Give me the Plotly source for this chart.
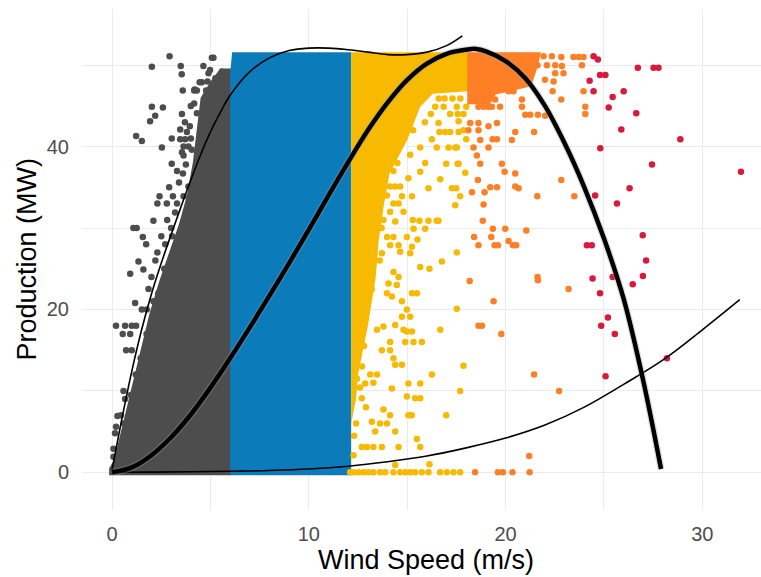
import plotly.graph_objects as go

# ---- point clouds: dense cores (outline of the packed region) ----
gray_core_x = [-0.15, 6.05, 6.05, 5.5, 5.0, 4.5, 4.3, 4.1, 3.8, 3.4, 2.9, 2.4, 1.9, 1.5, 1.1, 0.7, 0.35, 0.1, -0.15]
gray_core_y = [-0.35, -0.35, 49.6, 49.6, 48.0, 46.0, 42.0, 38.0, 34.0, 30.5, 27.0, 23.5, 19.5, 15.5, 11.5, 7.5, 4.0, 1.5, 0.5]

blue_core_x = [6.0, 12.15, 12.15, 6.1, 6.0]
blue_core_y = [-0.35, -0.35, 51.6, 51.6, 49.0]

yellow_core_x = [12.15, 12.4, 12.5, 13.0, 13.4, 13.55, 13.8, 14.1, 15.0, 15.66, 16.3, 18.1, 18.1, 12.15]
yellow_core_y = [6.0, 9.0, 12.0, 18.0, 24.0, 28.5, 32.6, 36.7, 40.8, 44.9, 46.5, 46.8, 51.6, 51.6]

orange_core_x = [18.05, 18.05, 21.8, 21.6, 21.3, 19.5, 19.2]
orange_core_y = [45.2, 51.6, 51.6, 49.6, 47.4, 46.4, 45.2]

# ---- scattered observations around the cores ----
gray_x = [2.92, 2.02, 3.49, 3.54, 4.64, 5.07, 5.15, 4.9, 4.98, 5.58, 3.59, 4.17, 4.31, 4.78, 5.15,
          5.4, 5.69, 4.56, 2.02, 2.58, 2.19, 1.93, 4.17, 4.31, 1.22, 1.51, 2.53, 3.03, 3.46, 3.71,
          3.63, 3.88, 4.05, 3.63, 3.03, 4.13, 3.88, 2.41, 3.09, 3.63, 2.3, 2.78, 3.97, 2.1, 1.08,
          1.25, 1.56, 1.73, 2.3, 1.34, 1.59, 0.92, 1.17, 1.51, 1.76, 0.2, 0.66, 1.0, 1.22, 0.54,
          0.92, 0.71, 1.0, 0.58, 0.66, 0.27, 0.2, 0.15, 0.07, 0.07, 3.46,
          3.7, 3.95, 3.8, 4.0, 3.55, 3.75, 3.6, 3.4, 3.3, 2.9, 3.2, 2.8, 3.0, 2.5, 2.7, 2.2, 2.0,
          1.85, 4.85, 5.25, 5.8,
          3.3, 3.05, 2.65, 2.35, 2.1, 1.75, 1.45, 1.2, 0.95, 0.6, 0.45, 3.55, 4.0, 4.2, 4.45]
gray_y = [51.1, 49.8, 49.9, 48.9, 49.9, 50.9, 50.9, 49.0, 49.4, 49.2, 46.9, 46.9, 46.9, 46.9, 46.9,
          47.9, 47.9, 47.9, 44.9, 44.8, 43.8, 43.1, 45.3, 44.1, 41.3, 40.7, 39.9, 41.0, 40.9, 40.9,
          40.0, 40.0, 39.6, 38.9, 37.9, 35.9, 35.1, 33.9, 33.9, 33.9, 33.0, 33.0, 33.9, 30.9, 30.0,
          30.0, 28.9, 28.0, 27.0, 25.9, 24.9, 24.4, 20.8, 20.0, 20.0, 18.0, 18.0, 18.0, 18.0, 17.0,
          17.0, 15.0, 15.0, 10.0, 9.0, 6.9, 5.6, 4.8, 2.9, 1.9, 42.1,
          43.0, 42.5, 41.8, 41.0, 39.3, 37.8, 36.7, 35.6, 37.0, 35.0, 31.9, 31.0, 30.0, 29.0, 28.0,
          26.0, 24.0, 22.5, 48.0, 48.4, 48.8,
          33.0, 29.0, 25.0, 22.0, 21.0, 17.0, 14.0, 12.0, 9.5, 6.0, 7.0, 44.0, 45.0, 47.0, 47.9]

yellow_x = [16.42, 16.85, 17.18, 17.56, 17.86, 16.59, 16.64, 16.93, 17.18, 17.61, 16.25, 16.5, 17.1,
            17.44, 15.66, 15.15, 15.91, 16.98, 17.56, 15.66, 15.06, 16.68, 16.08, 17.27, 17.49, 15.24,
            17.69, 17.44, 15.28, 15.62, 16.08, 16.5, 16.59, 15.91, 15.32, 15.52, 17.52,
            14.13, 14.39, 14.64, 14.73, 13.71, 13.97, 14.3, 14.56, 14.13, 14.81, 13.79, 14.39, 13.97,
            14.3, 14.98, 14.13, 14.56, 14.64, 15.24, 15.15,
            17.52, 18.0, 17.61, 17.86, 18.0, 17.52, 17.95, 17.61,
            13.71, 16.76, 15.66, 16.13, 14.3, 14.56, 14.05, 14.47, 15.24, 15.49, 13.97, 14.22, 14.73,
            17.52, 14.98, 14.73, 15.15, 14.39, 14.81, 14.98, 15.24, 16.68, 13.79, 13.46, 15.74, 14.13,
            15.32, 14.9, 13.71, 14.13, 14.3, 14.73, 14.39, 17.86, 16.25, 13.12, 13.46, 15.06, 15.66,
            14.22, 12.6, 12.86, 13.28, 17.69, 14.98, 15.4, 15.66, 12.69, 13.79, 14.13, 15.06, 15.23,
            16.98, 12.4, 13.2, 13.62, 13.97, 13.37, 14.39, 15.49, 12.69, 12.95, 13.28, 13.71, 14.56,
            15.66, 12.27, 14.39, 16.13,
            12.1, 12.27, 12.52, 12.78, 13.03, 13.28, 13.62, 13.88, 14.3, 14.64, 14.9, 15.15, 15.4,
            15.74, 16.08, 16.67, 17.01, 17.35, 17.69,
            12.5, 12.8, 12.4, 12.9, 13.2, 12.6, 13.0, 12.7, 12.45, 12.9, 12.3,
            16.6, 16.9, 17.3, 17.7, 15.9, 16.2, 15.3, 14.5, 14.3, 13.85, 13.7, 13.6]
yellow_y = [44.9, 44.9, 44.0, 44.0, 44.0, 42.9, 41.8, 41.8, 41.8, 41.8, 40.9, 39.9, 39.9,
            39.9, 39.9, 39.0, 38.0, 37.9, 37.9, 36.9, 36.1, 36.0, 34.9, 34.9, 34.9, 33.9,
            33.9, 32.8, 31.0, 30.9, 30.9, 30.9, 30.9, 29.9, 29.9, 28.6, 27.0,
            35.1, 35.1, 35.1, 33.9, 34.0, 34.0, 33.0, 33.0, 32.0, 32.0, 31.0, 30.8, 28.9,
            28.9, 28.9, 27.9, 27.9, 27.1, 27.7, 26.9,
            44.9, 44.9, 43.1, 42.0, 40.9, 39.9, 36.8, 37.9,
            26.9, 25.9, 25.2, 25.0, 24.6, 24.0, 23.2, 23.0, 22.0, 22.0, 22.0, 21.6, 21.0,
            20.1, 20.0, 19.1, 19.1, 18.1, 17.5, 17.3, 17.3, 17.5, 17.9, 17.5, 16.0, 16.0,
            16.0, 16.0, 15.0, 15.0, 14.0, 13.2, 13.2, 13.1, 12.0, 12.0, 12.0, 10.9, 10.9,
            10.3, 10.4, 10.9, 11.0, 10.0, 9.3, 9.1, 9.1, 9.1, 7.7, 7.0, 7.0, 7.0,
            7.0, 6.0, 6.2, 6.0, 6.0, 5.0, 5.0, 4.1, 3.1, 3.1, 3.1, 3.1, 3.1,
            3.1, 2.1, 0.9, 1.0,
            0, 0, 0, 0, 0, 0, 0, 0, 0, 0, 0, 0, 0,
            0, 0, 0, 0, 0, 0,
            14.0, 15.5, 17.0, 20.0, 22.5, 21.0, 25.0, 13.0, 11.5, 8.0, 4.5,
            45.9, 45.9, 45.9, 45.9, 43.0, 44.0, 42.0, 38.0, 37.0, 36.0, 30.0, 26.0]

orange_x = [21.93, 22.35, 22.83, 23.45, 23.71, 23.96, 21.62, 22.1, 22.52, 22.86, 23.88, 22.52, 22.94,
            22.44, 22.0, 23.96, 22.39, 22.83, 20.15, 20.4, 20.83, 19.47, 18.46, 18.62, 18.88, 19.13,
            19.3, 19.72, 20.83, 21.0, 21.25, 21.64, 22.01, 24.05, 24.05, 18.2, 18.62, 19.13, 19.56,
            20.49, 21.45, 18.11, 18.62, 18.71, 19.34, 19.56, 20.32, 18.37, 19.13, 18.54, 18.71, 19.81,
            19.95, 20.49, 18.59, 22.83, 19.22, 19.56, 20.49, 20.66, 18.29, 18.93, 21.61, 23.49, 18.88,
            18.84, 19.35, 19.98, 21.05, 18.4, 19.27, 18.62, 19.44, 19.61, 20.15, 20.37, 20.54, 21.62,
            21.64, 18.17, 23.2, 19.39, 18.62, 18.8, 19.78, 21.45, 22.72, 21.2, 18.45, 19.61, 19.86,
            20.35, 21.22]
orange_y = [51.1, 51.1, 51.0, 51.0, 51.0, 51.0, 50.0, 50.0, 50.0, 49.9, 50.0, 49.0, 49.0,
            48.0, 48.2, 46.8, 46.8, 45.8, 46.8, 46.8, 45.8, 45.8, 45.8, 44.9, 44.9, 44.9,
            44.9, 44.9, 44.9, 43.9, 43.9, 43.9, 43.8, 44.9, 44.0, 42.9, 42.9, 42.5, 42.9,
            41.8, 41.8, 42.0, 42.0, 40.8, 40.9, 40.9, 40.8, 39.9, 39.9, 38.9, 37.9, 37.9,
            36.9, 36.7, 35.9, 35.9, 35.0, 35.0, 35.1, 34.9, 34.4, 34.4, 33.9, 33.9, 32.9,
            30.9, 29.9, 29.9, 29.7, 28.9, 28.9, 27.9, 27.9, 27.9, 28.4, 27.9, 27.9, 24.0,
            23.6, 23.5, 22.5, 21.0, 18.0, 18.0, 17.0, 12.0, 10.0, 2.0, 0, 0, 0,
            0, 0]

red_x = [24.47, 24.69, 26.72, 27.52, 27.77, 24.8, 25.07, 24.27, 24.47, 26.0, 25.44, 25.24, 26.64,
         25.88, 28.88, 24.81, 27.44, 31.96, 26.3, 24.55, 25.66, 26.97, 24.13, 24.38, 27.14, 24.42,
         25.44, 26.98, 26.46, 24.8, 25.2, 24.86, 25.55, 25.08, 28.2]
red_y = [51.1, 50.7, 49.7, 49.7, 49.7, 48.8, 48.8, 48.1, 46.8, 46.8, 46.1, 44.8, 44.1,
         42.1, 40.9, 39.8, 37.8, 36.9, 34.9, 34.0, 33.0, 29.1, 27.9, 27.9, 26.0, 23.8,
         24.0, 24.1, 23.1, 22.0, 19.0, 18.0, 17.0, 11.8, 14.0]

# ---- fitted curves ----
fit_upper_x = [0, 0.5, 1, 1.5, 2, 2.5, 3, 3.5, 4, 4.5, 5, 5.5, 6, 7, 8, 9, 10, 11, 12, 13, 14, 15,
               16, 17, 17.8]
fit_upper_y = [0.3, 6.6, 12.4, 17.5, 21.9, 25.7, 29.2, 32.6, 35.9, 39.0, 41.8, 44.2, 46.3, 49.2,
               50.9, 51.8, 52.1, 52.1, 51.9, 51.6, 51.3, 51.3, 51.6, 52.4, 53.6]

fit_main_x = [0, 1, 2, 3, 4, 5, 6, 7, 8, 9, 10, 11, 12, 13, 14, 15, 16, 17, 18, 18.5, 19, 20, 21,
              22, 23, 24, 25, 26, 27, 27.9]
fit_main_y = [0, 0.6, 2.1, 4.3, 7.1, 10.4, 14.0, 17.8, 21.7, 25.7, 29.8, 34.0, 38.1, 42.0, 45.4,
              48.2, 50.2, 51.4, 51.9, 52.0, 51.7, 50.5, 48.4, 45.0, 40.4, 35.0, 28.7, 21.3, 11.2, 0.4]

fit_lower_x = [0, 2, 4, 6, 8, 10, 12, 14, 16, 18, 20, 22, 24, 26, 28, 30, 31.9]
fit_lower_y = [0, 0.02, 0.06, 0.13, 0.22, 0.4, 0.75, 1.3, 2.0, 3.0, 4.2, 5.8, 8.0, 10.8, 13.8, 17.5, 21.2]

groups = [
    ("#4D4D4D", gray_core_x, gray_core_y, gray_x, gray_y),
    ("#0C7BBA", blue_core_x, blue_core_y, [], []),
    ("#F7BA00", yellow_core_x, yellow_core_y, yellow_x, yellow_y),
    ("#FF7F27", orange_core_x, orange_core_y, orange_x, orange_y),
    ("#D91A3C", None, None, red_x, red_y),
]

fig = go.Figure()
for color, cx, cy, px, py in groups:
    if cx is not None:
        fig.add_trace(go.Scatter(x=cx, y=cy, mode="lines", fill="toself", fillcolor=color,
                                 line=dict(width=0, color=color), hoverinfo="skip"))
    if px:
        fig.add_trace(go.Scatter(x=px, y=py, mode="markers",
                                 marker=dict(size=6.5, color=color, line=dict(width=0))))

fig.add_trace(go.Scatter(x=fit_upper_x, y=fit_upper_y, mode="lines",
                         line=dict(color="black", width=1.6, shape="spline")))
fig.add_trace(go.Scatter(x=fit_lower_x, y=fit_lower_y, mode="lines",
                         line=dict(color="black", width=1.6, shape="spline")))
# confidence band halo + main fit
fig.add_trace(go.Scatter(x=fit_main_x, y=fit_main_y, mode="lines",
                         line=dict(color="rgba(160,160,160,0.35)", width=7, shape="spline")))
fig.add_trace(go.Scatter(x=fit_main_x, y=fit_main_y, mode="lines",
                         line=dict(color="black", width=4.5, shape="spline")))

font_family = "Liberation Sans, Arial, sans-serif"
grid = "#EBEBEB"
fig.update_layout(
    width=761, height=577,
    margin=dict(l=82, r=0, t=9, b=67),
    plot_bgcolor="white", paper_bgcolor="white",
    showlegend=False,
    font=dict(family=font_family),
    xaxis=dict(range=[-1.53, 32.98], tickvals=[0, 10, 20, 30], ticks="",
               tickfont=dict(size=20, color="#4D4D4D"), ticklabelstandoff=10,
               showgrid=True, gridcolor=grid, gridwidth=1.4, zeroline=False, showline=False,
               minor=dict(tickvals=[5, 15, 25], showgrid=True, gridcolor=grid, gridwidth=0.8)),
    yaxis=dict(range=[-4.63, 56.9], tickvals=[0, 20, 40], ticks="",
               tickfont=dict(size=20, color="#4D4D4D"), ticklabelstandoff=12,
               showgrid=True, gridcolor=grid, gridwidth=1.4, zeroline=False, showline=False,
               minor=dict(tickvals=[10, 30, 50], showgrid=True, gridcolor=grid, gridwidth=0.8)),
    annotations=[
        dict(text="Wind Speed (m/s)", xref="paper", yref="paper", x=0.5066, y=0,
             xanchor="center", yanchor="middle", yshift=-50, showarrow=False,
             font=dict(size=27, color="black")),
        dict(text="Production (MW)", xref="paper", yref="paper", x=0, y=0.5,
             xanchor="center", yanchor="middle", xshift=-56, showarrow=False, textangle=-90,
             font=dict(size=27, color="black")),
    ],
)

fig.write_html("out.html")
